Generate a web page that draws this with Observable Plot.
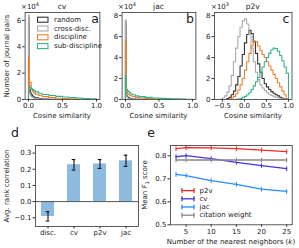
<!DOCTYPE html>
<html><head><meta charset="utf-8">
<script src="https://cdn.jsdelivr.net/npm/d3@7"></script>
<script src="https://cdn.jsdelivr.net/npm/@observablehq/plot@0.6"></script>
<style>
body{margin:0;background:#fff;}
#fig{position:relative;width:299px;height:248px;font-family:"DejaVu Sans",sans-serif;color:#222;overflow:hidden;background:#fff;}
#fig svg{position:absolute;left:0;top:0;}
.t{position:absolute;white-space:nowrap;font-size:7px;line-height:1;transform:translate(-50%,-50%);}
.r{transform:translate(-50%,-50%) rotate(-90deg);}
.big{font-size:12.5px;}
sup{font-size:5px;vertical-align:3px;}
</style></head><body><div id="fig"></div><script>
// ---------- data ----------
const histSeries = ["random", "cross-disc.", "discipline", "sub-discipline"];
// panels a, b: bin edges (cosine similarity) and heights (x10^4)
const abEdges = [0, 0.01, 0.02, 0.03, 0.04, 0.06, 0.08, 0.1, 0.15, 0.2, 0.3, 0.4, 0.5, 0.6, 0.7, 0.8, 0.9, 1.0];
const cvRandom = [6.2, 1.05, 0.7, 0.5, 0.35, 0.25, 0.17, 0.12, 0.07, 0.03, 0.01, 0.005, 0, 0, 0, 0, 0];
const cvCross  = [6.4, 0.6, 0.4, 0.28, 0.2, 0.14, 0.1, 0.07, 0.04, 0.02, 0.01, 0, 0, 0, 0, 0, 0];
const cvDisc   = [3.2, 1.3, 1.3, 1.3, 0.75, 0.6, 0.5, 0.4, 0.3, 0.22, 0.15, 0.1, 0.07, 0.05, 0.03, 0.02, 0.01];
const cvSub    = [0.6, 0.9, 0.9, 0.88, 0.82, 0.75, 0.68, 0.58, 0.47, 0.38, 0.3, 0.24, 0.19, 0.15, 0.11, 0.08, 0.05];
const jacRandom = [7.4, 0.6, 0.35, 0.25, 0.18, 0.12, 0.08, 0.05, 0.03, 0.01, 0, 0, 0, 0, 0, 0, 0];
const jacCross  = [7.6, 0.4, 0.25, 0.15, 0.1, 0.07, 0.05, 0.03, 0.02, 0.01, 0, 0, 0, 0, 0, 0, 0];
const jacDisc   = [5.6, 0.9, 0.75, 0.6, 0.5, 0.42, 0.35, 0.28, 0.2, 0.14, 0.09, 0.06, 0.04, 0.03, 0.02, 0.01, 0.005];
const jacSub    = [2.3, 1.0, 0.95, 0.85, 0.75, 0.65, 0.55, 0.45, 0.35, 0.27, 0.2, 0.15, 0.11, 0.08, 0.06, 0.04, 0.03];
// panel c: bin edges and heights (x10^3)
const cEdges = [-0.6,-0.55,-0.5,-0.45,-0.4,-0.35,-0.3,-0.25,-0.2,-0.15,-0.1,-0.05,0,0.05,0.1,0.15,0.2,0.25,0.3,0.35,0.4,0.45,0.5,0.55,0.6,0.65,0.7,0.75,0.8,0.85,0.9,0.95,1.0];
const p2vRandom = [0,0,0,0,0.1,0.2,0.45,0.8,1.4,2.2,3.2,4.3,5.4,6.2,6.6,6.3,5.5,4.4,3.4,2.6,2.0,1.5,1.2,0.95,0.75,0.6,0.45,0.35,0.22,0.12,0.05,0];
const p2vCross  = [0,0.05,0.15,0.35,0.7,1.3,2.3,3.6,4.9,6.0,6.9,7.5,7.7,7.2,6.2,4.9,3.6,2.6,1.9,1.4,1.1,0.85,0.65,0.5,0.38,0.3,0.22,0.16,0.1,0.05,0.02,0];
const p2vDisc   = [0,0,0,0,0,0.05,0.15,0.3,0.55,0.9,1.4,2.0,2.8,3.6,4.4,5.1,5.6,5.5,5.1,4.7,4.3,4.0,3.6,3.2,2.8,2.4,2.0,1.6,1.2,0.8,0.45,0.1];
const p2vSub    = [0,0,0,0,0,0,0,0,0.02,0.05,0.1,0.2,0.3,0.45,0.65,0.95,1.3,1.7,2.1,2.6,3.1,3.6,4.0,4.4,4.75,4.9,4.85,4.6,4.2,3.7,3.1,2.5];
// panel d
const dCategories = ["disc.", "cv", "p2v", "jac"];
const dMeans = [-0.092, 0.228, 0.233, 0.252];
const dLow   = [-0.12, 0.195, 0.205, 0.218];
const dHigh  = [-0.062, 0.26, 0.26, 0.287];
// panel e
const eK = [3, 5, 10, 15, 20, 25];
const eP2v = [0.831, 0.836, 0.835, 0.831, 0.825, 0.818];
const eCv  = [0.796, 0.801, 0.788, 0.772, 0.757, 0.744];
const eJac = [0.719, 0.714, 0.692, 0.676, 0.655, 0.645];
const eCit = [0.782, 0.782, 0.782, 0.782, 0.782, 0.782];
const eSeries = ["p2v", "cv", "jac", "citation weight"];

// ---------- styles ----------
const histColors = ["#333333", "#aaaaaa", "#f07f2a", "#2fb38a"];
const eColors = ["#f22a2a", "#4433e0", "#2a8cff", "#888888"];
const frameColor = "#333";

const fig = document.getElementById("fig");
const W = 299, H = 248;
const baseStyle = {background: "transparent", overflow: "visible", fontFamily: "DejaVu Sans, sans-serif", fontSize: "7px", color: "#222"};

function steps(edges, counts) {
  const pts = [{x: edges[0], y: 0}];
  counts.forEach((c, i) => { pts.push({x: edges[i], y: c}); pts.push({x: edges[i + 1], y: c}); });
  pts.push({x: edges[edges.length - 1], y: 0});
  return pts;
}
function add(svg) { fig.appendChild(svg); }
function txt(html, x, y, cls = "", extra = "") {
  const d = document.createElement("div");
  d.className = "t " + cls; d.innerHTML = html;
  d.style.left = x + "px"; d.style.top = y + "px";
  if (extra) d.style.cssText += extra;
  fig.appendChild(d);
}
function axes(xo, yo) {
  return [
    Plot.axisX({...xo, tickSize: 2.5, tickPadding: 1.5, label: null, stroke: frameColor}),
    Plot.axisY({...yo, tickSize: 2.5, tickPadding: 1.5, label: null, stroke: frameColor})
  ];
}
function histPanel(edges, series, left, right, xDomain, yDomain, xTicks, yTicks) {
  add(Plot.plot({
    width: W, height: H, marginLeft: left, marginRight: W - right, marginTop: 12, marginBottom: H - 99,
    style: baseStyle,
    x: {domain: xDomain}, y: {domain: yDomain},
    marks: [
      ...series.map((s, i) => Plot.line(steps(edges, s), {x: "x", y: "y", stroke: histColors[i], strokeWidth: 1.1, clip: true})),
      Plot.frame({stroke: frameColor, strokeWidth: 0.8}),
      ...axes({ticks: xTicks, tickFormat: ".1f"}, {ticks: yTicks, tickFormat: "d"})
    ]
  }));
}

histPanel(abEdges, [cvRandom, cvCross, cvDisc, cvSub], 24.6, 99.4, [-0.05, 1.05], [0, 6.6], [0, 0.5, 1], [0, 2, 4, 6]);
histPanel(abEdges, [jacRandom, jacCross, jacDisc, jacSub], 121.6, 195.4, [-0.05, 1.05], [0, 8.3], [0, 0.5, 1], [0, 2, 4, 6, 8]);
histPanel(cEdges, [p2vRandom, p2vCross, p2vDisc, p2vSub], 214, 291.5, [-0.68, 1.08], [0, 8.3], [-0.5, 0, 0.5, 1], [0, 2, 4, 6, 8]);

// panel d
const dData = dCategories.map((c, i) => ({cat: c, v: dMeans[i], lo: dLow[i], hi: dHigh[i]}));
add(Plot.plot({
  width: W, height: H, marginLeft: 35, marginRight: W - 138, marginTop: 145, marginBottom: H - 226,
  style: baseStyle,
  x: {domain: dCategories, paddingInner: 0.5, paddingOuter: 0.175, align: 0.5},
  y: {domain: [-0.154, 0.347]},
  marks: [
    Plot.barY(dData, {x: "cat", y: "v", fill: "#8dbadf"}),
    Plot.ruleY([0], {stroke: "#555", strokeWidth: 1}),
    Plot.ruleX(dData, {x: "cat", y1: "lo", y2: "hi", stroke: "#111", strokeWidth: 1.1}),
    Plot.tickY(dData, {x: "cat", y: "lo", stroke: "#111", strokeWidth: 1.1, insetLeft: 4.7, insetRight: 4.7}),
    Plot.tickY(dData, {x: "cat", y: "hi", stroke: "#111", strokeWidth: 1.1, insetLeft: 4.7, insetRight: 4.7}),
    Plot.frame({stroke: frameColor, strokeWidth: 0.8}),
    ...axes({}, {ticks: [-0.1, 0, 0.1, 0.2, 0.3], tickFormat: ".1f"})
  ]
}));

// panel e
const eValues = [eP2v, eCv, eJac, eCit];
const eData = eSeries.flatMap((s, j) => eK.map((k, i) => ({s, k, v: eValues[j][i]})));
const vtick = {draw(ctx, size) { const r = Math.sqrt(size / Math.PI); ctx.moveTo(0, -r); ctx.lineTo(0, r); }};
add(Plot.plot({
  width: W, height: H, marginLeft: 170, marginRight: W - 291.7, marginTop: 145, marginBottom: H - 224.3,
  style: baseStyle,
  x: {domain: [1.9, 26.1]}, y: {domain: [0.5, 0.845]},
  color: {domain: eSeries, range: eColors},
  marks: [
    Plot.line(eData, {x: "k", y: "v", z: "s", stroke: "s", strokeWidth: 1.3}),
    Plot.dot(eData, {x: "k", y: "v", stroke: "s", fill: "none", symbol: vtick, r: 2.4, strokeWidth: 1}),
    Plot.frame({stroke: frameColor, strokeWidth: 0.8}),
    ...axes({ticks: [5, 10, 15, 20, 25]}, {ticks: [0.5, 0.6, 0.7, 0.8], tickFormat: ".1f"})
  ]
}));

// legends (drawn with d3)
const leg = d3.create("svg").attr("width", W).attr("height", H).style("position", "absolute").style("left", 0).style("top", 0);
const aRows = [19.7, 28.5, 37.3, 46.1];
histSeries.forEach((s, i) => {
  leg.append("rect").attr("x", 37.5).attr("y", aRows[i] - 2.5).attr("width", 10.5).attr("height", 5)
    .attr("fill", "none").attr("stroke", histColors[i]).attr("stroke-width", 1.1);
  txt(s, 54, aRows[i], "", "transform:translate(0,-50%)");
});
const eRows = [190.6, 198.8, 207, 215.2];
eSeries.forEach((s, i) => {
  const g = leg.append("g").attr("stroke", eColors[i]).attr("stroke-width", 1.3);
  g.append("line").attr("x1", 181.5).attr("x2", 194.5).attr("y1", eRows[i]).attr("y2", eRows[i]);
  g.append("line").attr("x1", 182).attr("x2", 182).attr("y1", eRows[i] - 2.5).attr("y2", eRows[i] + 2.5);
  g.append("line").attr("x1", 194).attr("x2", 194).attr("y1", eRows[i] - 2.5).attr("y2", eRows[i] + 2.5);
  txt(s, 199.5, eRows[i], "", "transform:translate(0,-50%)");
});
fig.appendChild(leg.node());

// texts
txt("cv", 62, 6.5, "", "font-size:7.5px");
txt("jac", 158.5, 6.5, "", "font-size:7.5px");
txt("p2v", 252.7, 6.5, "", "font-size:7.5px");
txt("×10<sup>4</sup>", 30, 5.5);
txt("×10<sup>4</sup>", 127, 5.5);
txt("×10<sup>3</sup>", 220, 5.5);
txt("a", 95, 19, "big");
txt("b", 190, 19, "big");
txt("c", 286, 19, "big");
txt("d", 15, 133, "big");
txt("e", 151, 133, "big");
txt("Number of journal pairs", 7, 55.5, "r");
txt("Avg. rank correlation", 7, 185.5, "r");
txt("Mean <i>F</i><sub style='font-size:5px'>1</sub> score", 146, 184.5, "r");
txt("Cosine similarity", 62, 116);
txt("Cosine similarity", 158.5, 116);
txt("Cosine similarity", 253, 116);
txt("Number of the nearest neighbors (<i>k</i>)", 231, 242);
</script></body></html>
